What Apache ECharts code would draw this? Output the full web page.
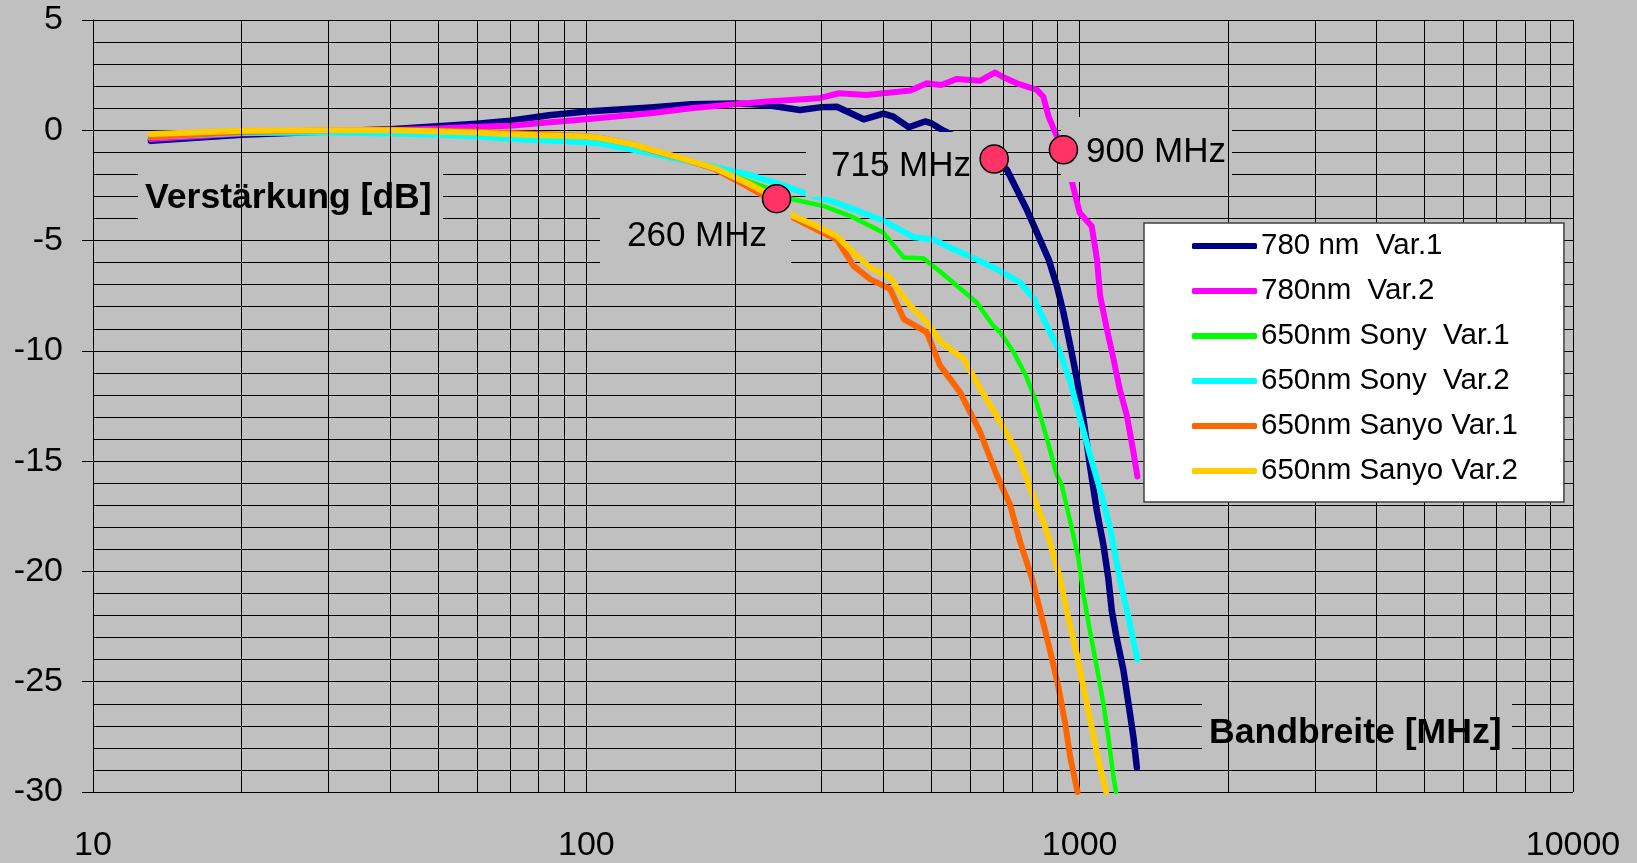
<!DOCTYPE html>
<html>
<head>
<meta charset="utf-8">
<title>Bandbreite</title>
<script src="https://cdn.jsdelivr.net/npm/echarts@6.0.0/dist/echarts.min.js"></script>
<style>
html, body { margin: 0; padding: 0; background: #c0c0c0; }
#main { width: 1637px; height: 863px; }
</style>
</head>
<body>
<div id="main"></div>
<script>
// Messwerte [Frequenz MHz, Verstaerkung dB]
var nm780Var1 = [[13.1,-0.48],[20,-0.2],[30,-0.05],[40,0.05],[50,0.18],[60,0.3],[70,0.43],[80,0.61],[84,0.68],[100,0.85],[135,1.03],[163,1.18],[200,1.22],[232,1.15],[271,0.92],[300,1.05],[322,1.07],[365,0.5],[400,0.76],[419,0.62],[450,0.14],[486,0.4],[500,0.32],[530,-0.02],[600,-0.6],[671,-1.3],[712,-1.79],[740,-2.54],[781,-3.59],[819,-4.64],[865,-5.85],[899,-7.05],[927,-8.26],[957,-9.76],[987,-11.27],[1018,-13.1],[1049,-15.2],[1084,-17.28],[1117,-18.79],[1143,-20.3],[1162,-21.8],[1188,-23.0],[1227,-24.5],[1256,-26.0],[1285,-27.5],[1306,-28.9]];
var nm780Var2 = [[13.1,-0.4],[20,-0.15],[30,-0.03],[40,0.0],[50,0.08],[60,0.16],[70,0.21],[80,0.32],[100,0.5],[135,0.77],[163,1.0],[200,1.18],[232,1.3],[296,1.45],[325,1.68],[370,1.6],[400,1.68],[454,1.8],[490,2.13],[524,2.05],[564,2.33],[600,2.28],[629,2.25],[674,2.62],[701,2.4],[746,2.13],[819,1.83],[844,1.52],[865,0.62],[899,-0.28],[927,-0.88],[964,-2.31],[1000,-3.74],[1058,-4.35],[1084,-5.85],[1100,-7.5],[1135,-9.0],[1171,-10.36],[1205,-11.72],[1246,-12.92],[1285,-14.58],[1309,-15.7]];
var sonyVar1 = [[13.1,-0.3],[20,-0.1],[30,-0.05],[40,-0.08],[50,-0.15],[60,-0.22],[70,-0.3],[80,-0.38],[90,-0.45],[100,-0.52],[107,-0.58],[128,-0.95],[152,-1.25],[184,-1.8],[228,-2.54],[263,-3.14],[303,-3.44],[343,-3.89],[400,-4.64],[440,-5.77],[482,-5.8],[521,-6.4],[564,-7.05],[618,-7.8],[668,-8.86],[690,-9.16],[735,-10.06],[781,-11.2],[819,-12.4],[858,-13.97],[899,-15.63],[920,-16.08],[957,-17.74],[994,-19.39],[1018,-21.05],[1049,-22.7],[1084,-24.36],[1117,-26.0],[1143,-27.5],[1171,-29.33],[1185,-30]];
var sonyVar2 = [[13.1,-0.3],[20,-0.12],[30,-0.1],[40,-0.15],[50,-0.2],[60,-0.28],[70,-0.38],[80,-0.45],[90,-0.5],[100,-0.55],[107,-0.6],[128,-0.94],[152,-1.28],[184,-1.68],[215,-2.03],[251,-2.5],[276,-2.84],[307,-3.14],[343,-3.52],[400,-4.1],[432,-4.5],[461,-4.85],[506,-4.95],[546,-5.32],[591,-5.65],[679,-6.3],[757,-6.9],[806,-7.6],[858,-8.86],[912,-10.06],[957,-11.4],[1000,-13.0],[1049,-14.7],[1100,-16.3],[1153,-18.04],[1205,-20.3],[1256,-22.1],[1309,-23.98]];
var sanyoVar1 = [[13.1,-0.3],[20,-0.08],[30,0.0],[40,0.02],[50,-0.02],[60,-0.07],[70,-0.12],[80,-0.17],[90,-0.22],[100,-0.27],[107,-0.35],[125,-0.65],[135,-0.9],[152,-1.2],[182,-1.75],[212,-2.54],[243,-3.3],[263,-3.97],[293,-4.5],[322,-4.95],[348,-6.15],[376,-6.75],[413,-7.2],[440,-8.56],[490,-9.16],[521,-10.66],[572,-11.87],[629,-13.7],[679,-15.63],[723,-16.99],[757,-18.64],[800,-20.3],[832,-21.8],[871,-23.6],[906,-25.26],[935,-26.92],[957,-28.42],[990,-30]];
var sanyoVar2 = [[13.1,-0.17],[20,-0.02],[30,0.0],[40,0.0],[50,-0.05],[60,-0.1],[70,-0.18],[80,-0.22],[90,-0.25],[100,-0.28],[107,-0.35],[125,-0.65],[135,-0.88],[152,-1.19],[182,-1.71],[212,-2.39],[243,-3.1],[263,-3.89],[293,-4.34],[322,-4.8],[348,-5.55],[376,-6.22],[413,-6.68],[447,-7.8],[490,-8.71],[524,-9.61],[582,-10.36],[629,-11.72],[690,-13.22],[746,-14.58],[794,-16.23],[858,-18.19],[912,-20.3],[948,-22.1],[987,-23.76],[1018,-25.26],[1058,-27.07],[1092,-28.57],[1132,-30]];

var cutoffPoints = [[243,-3.1],[671,-1.3],[927,-0.88]];
var cutoffLabels = ['260 MHz', '715 MHz', '900 MHz'];
var minorFreqs = [20,30,40,50,60,70,80,90,200,300,400,500,600,700,800,900,2000,3000,4000,5000,6000,7000,8000,9000];

var seriesNames = ['780 nm  Var.1', '780nm  Var.2', '650nm Sony  Var.1', '650nm Sony  Var.2', '650nm Sanyo Var.1', '650nm Sanyo Var.2'];
var seriesData = [nm780Var1, nm780Var2, sonyVar1, sonyVar2, sanyoVar1, sanyoVar2];
var colors = ['#000080', '#ff00ff', '#00ff00', '#00ffff', '#ff6600', '#ffcc00'];
var widths = [6.5, 6, 4.5, 6, 6, 6];

var font = 'Liberation Sans, Arial, sans-serif';

// grauer Kasten mit Text, liegt ueber den Kurven
function labelBox(x, y, w, h, text, bold, tx, ty) {
    return {
        type: 'group',
        z: 5,
        children: [
            { type: 'rect', shape: { x: x, y: y, width: w, height: h }, style: { fill: '#c0c0c0' }, z: 5 },
            { type: 'text', x: tx, y: ty, z: 6,
              style: { text: text, fill: '#000', font: (bold ? 'bold 35.6px ' : '35px ') + font, verticalAlign: 'middle' } }
        ]
    };
}

var myChart = echarts.init(document.getElementById('main'));

var series = [{
    name: 'grid',
    type: 'line',
    data: [],
    z: 1,
    silent: true,
    markLine: {
        silent: true,
        symbol: 'none',
        animation: false,
        label: { show: false },
        lineStyle: { color: '#000', width: 1, type: 'solid' },
        data: minorFreqs.map(function (f) { return { xAxis: f }; })
    }
}];

for (var i = 0; i < seriesNames.length; i++) {
    series.push({
        name: seriesNames[i],
        type: 'line',
        data: seriesData[i],
        showSymbol: false,
        symbol: 'none',
        z: 2 + i * 0.1,
        lineStyle: { color: colors[i], width: widths[i], cap: 'round', join: 'round' },
        itemStyle: { color: colors[i] }
    });
}

series.push({
    name: 'cutoff',
    type: 'scatter',
    data: cutoffPoints,
    symbolSize: 28,
    z: 10,
    itemStyle: { color: '#ff3366', borderColor: '#000', borderWidth: 1.5, opacity: 1 }
});

var option = {
    animation: false,
    backgroundColor: '#c0c0c0',
    grid: { left: 93, top: 20, right: 64, bottom: 68, containLabel: false },
    legend: {
        data: seriesNames,
        orient: 'vertical',
        left: 1144,
        top: 223,
        padding: [6, 46, 14, 48],
        backgroundColor: '#ffffff',
        borderColor: '#404040',
        borderWidth: 1.5,
        icon: 'roundRect',
        itemWidth: 65,
        itemHeight: 6,
        itemGap: 11,
        z: 8,
        textStyle: { fontSize: 29.5, color: '#000', fontFamily: font, lineHeight: 34, padding: [0, 0, 0, -1] }
    },
    xAxis: {
        type: 'log',
        logBase: 10,
        min: 10,
        max: 10000,
        axisLine: { show: true, lineStyle: { color: '#000', width: 1 } },
        axisTick: { show: true, length: 11, lineStyle: { color: '#000' } },
        axisLabel: {
            fontSize: 34, color: '#000', fontFamily: font, margin: 37,
            formatter: function (v) { return String(Math.round(v)); }
        },
        splitLine: { show: true, lineStyle: { color: '#000', width: 1 } }
    },
    yAxis: {
        type: 'value',
        min: -30,
        max: 5,
        interval: 5,
        axisLine: { show: true, onZero: false, lineStyle: { color: '#000', width: 1 } },
        axisTick: { show: true, length: 11, lineStyle: { color: '#000' } },
        axisLabel: { fontSize: 34, color: '#000', fontFamily: font, margin: 30 },
        splitLine: { show: true, lineStyle: { color: '#000', width: 1 } },
        minorTick: { show: false, splitNumber: 5 },
        minorSplitLine: { show: true, lineStyle: { color: '#000', width: 1 } }
    },
    graphic: [
        labelBox(138, 163, 305, 68, 'Verstärkung [dB]', true, 145, 198),
        labelBox(1202, 698, 310, 69, 'Bandbreite [MHz]', true, 1209, 733),
        labelBox(600, 202, 191, 65, cutoffLabels[0], false, 627, 236),
        labelBox(806, 132, 194, 65, cutoffLabels[1], false, 831, 166),
        labelBox(1061, 117, 171, 65, cutoffLabels[2], false, 1086, 152)
    ],
    series: series
};

myChart.setOption(option);
</script>
</body>
</html>
